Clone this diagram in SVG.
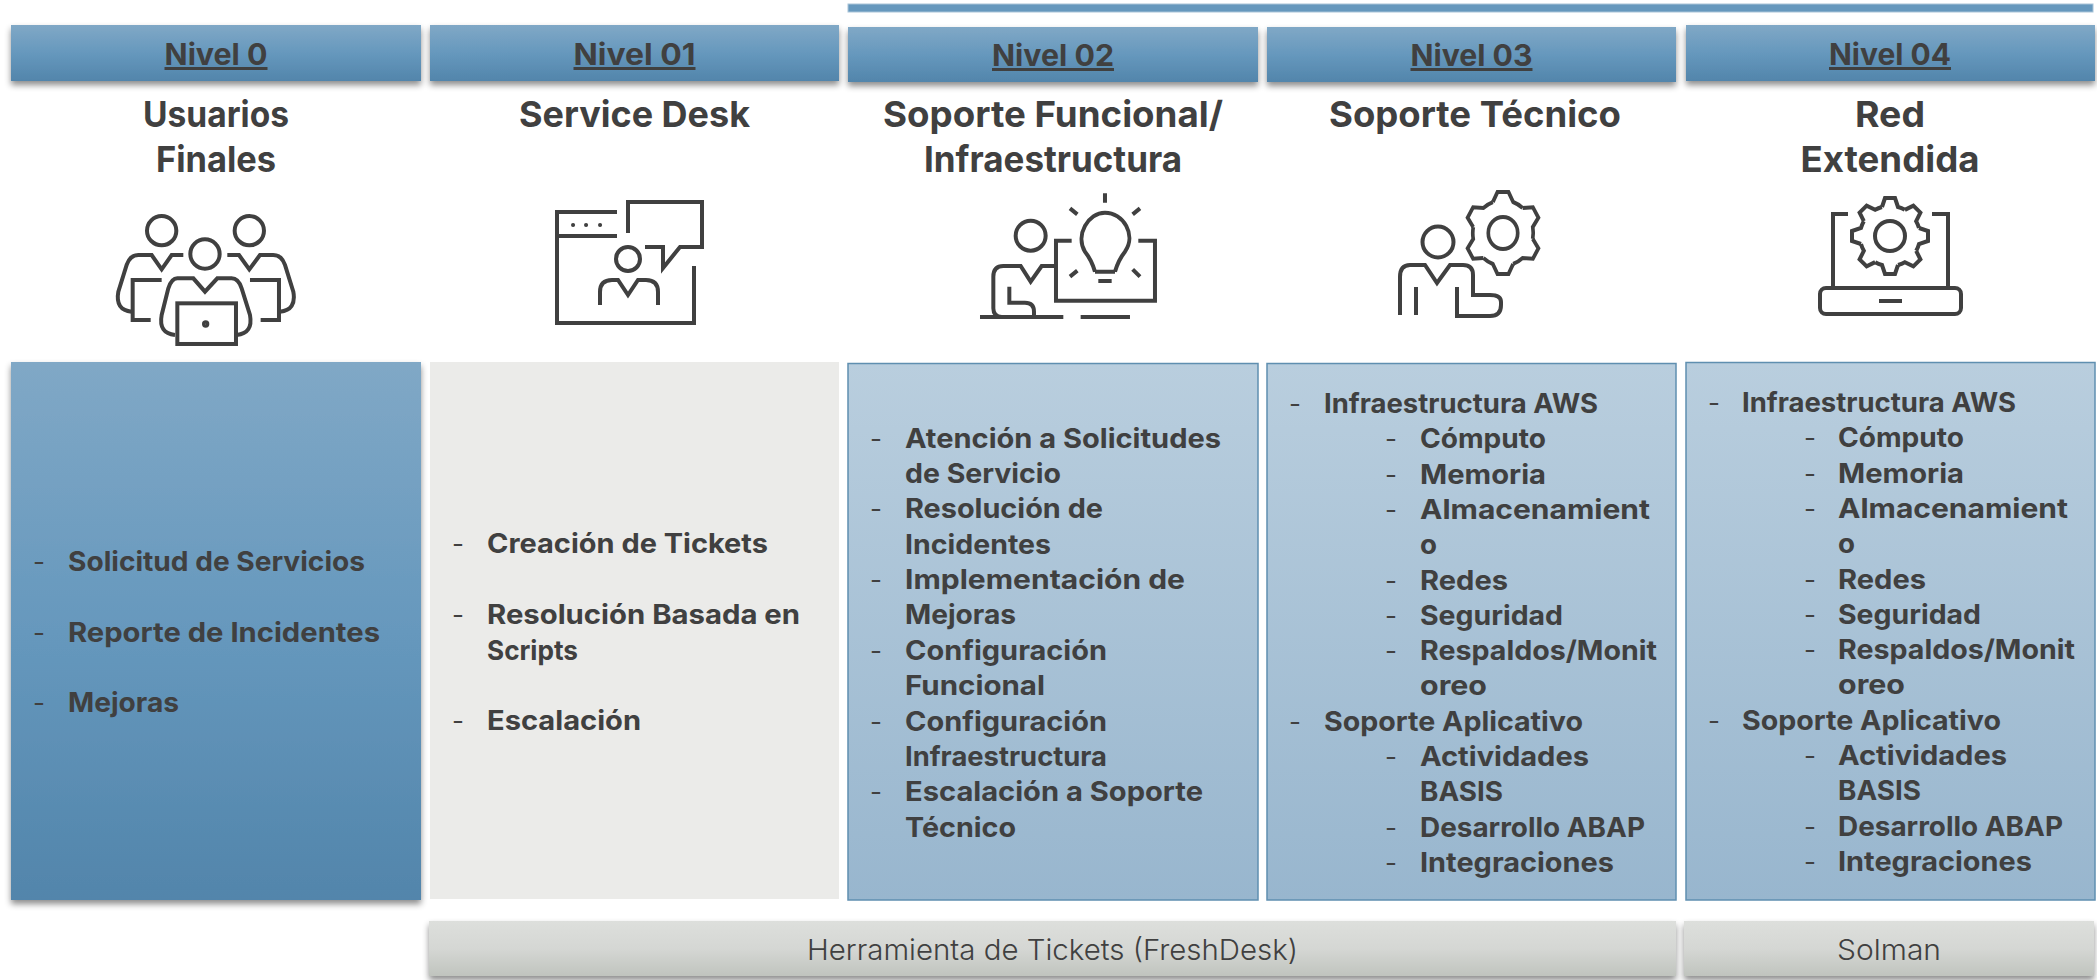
<svg xmlns="http://www.w3.org/2000/svg" xmlns:xlink="http://www.w3.org/1999/xlink" width="2097" height="980" viewBox="0 0 2097 980">
<style>
text{font-family:"Inter","Liberation Sans",sans-serif;fill:#404040}
.h{font-size:30px;font-weight:700;text-anchor:middle;text-decoration:underline}
.t{font-size:36px;font-weight:700;text-anchor:middle}
.b{font-size:27px;font-weight:700}
.d{font-size:26px;font-weight:400}
.k{font-size:29px;font-weight:300;text-anchor:middle}
.hdr{fill:url(#gb);filter:url(#sh)}
.lb{fill:url(#gl);stroke:#5f8fb0;stroke-width:1.5}
.tool{fill:url(#gg);filter:url(#sh)}
.ic{fill:none;stroke:#404040;stroke-width:4;filter:url(#soft)}
.ic3{fill:none;stroke:#404040;stroke-width:12;filter:url(#soft3)}
</style>
<defs>
<linearGradient id="gb" x1="0" y1="0" x2="0" y2="1"><stop offset="0" stop-color="#80a8c6"/><stop offset=".5" stop-color="#6698bd"/><stop offset="1" stop-color="#5285ab"/></linearGradient>
<linearGradient id="gl" x1="0" y1="0" x2="0" y2="1"><stop offset="0" stop-color="#b9cede"/><stop offset="1" stop-color="#98b6ce"/></linearGradient>
<linearGradient id="gg" x1="0" y1="0" x2="0" y2="1"><stop offset="0" stop-color="#dddfdc"/><stop offset=".5" stop-color="#d5d7d4"/><stop offset="1" stop-color="#c0c4be"/></linearGradient>
<filter id="sh" x="-5%" y="-20%" width="110%" height="150%"><feDropShadow dx="0" dy="4" stdDeviation="3" flood-color="#000" flood-opacity=".45"/></filter>
<filter id="soft"><feGaussianBlur stdDeviation=".7"/></filter>
<filter id="soft3"><feGaussianBlur stdDeviation="2.1"/></filter>
<path id="t6" d="M-11 -31L-6 -41H6L11 -31A33 33 0 0 1 21.3 -25"/>
<path id="t8" d="M-8 -29L-5 -38H5L8 -29A30 30 0 0 1 14.8 -26.2"/>
</defs>

<g id="top-bar"><rect x="848" y="4" width="1245" height="8" fill="#6698bd" stroke="#a9c4d8" stroke-width="1"/></g>

<g id="nivel0"><rect class="hdr" x="11" y="25" width="410" height="56"/><text class="h" x="216" y="65" textLength="103" lengthAdjust="spacingAndGlyphs">Nivel 0</text>
<text class="t" x="216" y="127" textLength="146" lengthAdjust="spacingAndGlyphs">Usuarios</text><text class="t" x="216" y="172" textLength="120" lengthAdjust="spacingAndGlyphs">Finales</text>
<g class="ic3" transform="translate(90 190) scale(.3333)">
<circle cx="215" cy="122" r="44"/><circle cx="478" cy="122" r="44"/><circle cx="345" cy="192" r="44"/>
<path d="M280 195H245L215 238L185 195H145Q120 195 110 225L85 305Q75 360 125 365"/>
<path d="M215 270H128V390H182"/>
<path d="M412 195H447L478 238L510 195H550Q575 195 585 225L610 305Q620 360 570 365"/>
<path d="M480 270H567V390H512"/>
<path d="M262 265H310L345 305L382 265H425Q445 265 455 295L480 375Q490 430 440 435M262 265Q245 265 235 295L215 375Q205 430 255 435"/>
<rect x="262" y="340" width="176" height="122"/>
<circle cx="347" cy="402" r="5"/>
</g></g>

<g id="nivel01"><rect class="hdr" x="430" y="25" width="409" height="56"/><text class="h" x="634.5" y="65" textLength="122" lengthAdjust="spacingAndGlyphs">Nivel 01</text>
<text class="t" x="634.5" y="127" textLength="231" lengthAdjust="spacingAndGlyphs">Service Desk</text>
<g class="ic">
<path d="M617 212H557V323H694V266M557 236H617"/>
<path d="M573 225h.1M586 225h.1M600 225h.1" stroke-linecap="round"/>
<path d="M628 233V202H702V247H680L663 268V247H645"/>
<circle cx="628" cy="259" r="12"/>
<path d="M600 305V292Q600 280 612 280H618L628 295L638 280H646Q658 280 658 292V305"/>
</g></g>

<g id="nivel02"><rect class="hdr" x="848" y="27" width="410" height="55"/><text class="h" x="1053" y="66" textLength="122" lengthAdjust="spacingAndGlyphs">Nivel 02</text>
<text class="t" x="1053" y="127" textLength="340" lengthAdjust="spacingAndGlyphs">Soporte Funcional/</text><text class="t" x="1053" y="172" textLength="258" lengthAdjust="spacingAndGlyphs">Infraestructura</text>
<g class="ic3" transform="translate(960 180) scale(.3333)">
<circle cx="212" cy="167" r="45"/>
<path d="M285 258H245L212 305L182 258H130Q100 258 100 290V385Q100 410 125 411"/>
<path d="M60 411H310M362 411H510"/>
<path d="M148 320V368H195Q222 368 222 395V411"/>
<path d="M335 182H288V362H585V182H535"/>
<path d="M405 275H465M405 275Q395 240 375 215C345 165 385 98 435 98C490 98 530 165 495 215Q475 240 465 275"/>
<path d="M415 303H455M435 40V68M330 85L352 103M540 85L518 103M352 272L330 290M518 268L540 290"/>
</g></g>

<g id="nivel03"><rect class="hdr" x="1267" y="27" width="409" height="55"/><text class="h" x="1471.5" y="66" textLength="122" lengthAdjust="spacingAndGlyphs">Nivel 03</text>
<text class="t" x="1475" y="127" textLength="292" lengthAdjust="spacingAndGlyphs">Soporte Técnico</text>
<g class="ic">
<circle cx="1438" cy="242" r="15.5"/>
<path d="M1416 287V315M1457 287V316H1490Q1501 316 1501 305V302Q1501 295 1490 295H1473V275Q1473 265 1463 265H1450L1437 283L1425 265H1410Q1400 265 1400 277V315"/>
<g transform="translate(1503 233) scale(.92 1)"><circle r="16"/><use xlink:href="#t6"/><use xlink:href="#t6" transform="rotate(60)"/><use xlink:href="#t6" transform="rotate(120)"/><use xlink:href="#t6" transform="rotate(180)"/><use xlink:href="#t6" transform="rotate(240)"/><use xlink:href="#t6" transform="rotate(300)"/></g>
</g></g>

<g id="nivel04"><rect class="hdr" x="1686" y="25" width="409" height="56"/><text class="h" x="1890" y="65" textLength="122" lengthAdjust="spacingAndGlyphs">Nivel 04</text>
<text class="t" x="1890" y="127" textLength="70" lengthAdjust="spacingAndGlyphs">Red</text><text class="t" x="1890" y="172" textLength="179" lengthAdjust="spacingAndGlyphs">Extendida</text>
<g class="ic">
<path d="M1848 214H1833V287M1932 214H1948V287M1879 301H1902"/>
<rect x="1820" y="288" width="141" height="26" rx="6"/>
<g transform="translate(1890 236)"><circle r="15"/><use xlink:href="#t8"/><use xlink:href="#t8" transform="rotate(45)"/><use xlink:href="#t8" transform="rotate(90)"/><use xlink:href="#t8" transform="rotate(135)"/><use xlink:href="#t8" transform="rotate(180)"/><use xlink:href="#t8" transform="rotate(225)"/><use xlink:href="#t8" transform="rotate(270)"/><use xlink:href="#t8" transform="rotate(315)"/></g>
</g></g>

<g id="caja0"><rect x="11" y="362" width="410" height="538" fill="url(#gb)" filter="url(#sh)"/>
<text class="d" x="33" y="571">-</text><text class="b" x="68" y="571" textLength="297" lengthAdjust="spacingAndGlyphs">Solicitud de Servicios</text>
<text class="d" x="33" y="641.6">-</text><text class="b" x="68" y="641.6" textLength="312" lengthAdjust="spacingAndGlyphs">Reporte de Incidentes</text>
<text class="d" x="33" y="712">-</text><text class="b" x="68" y="712" textLength="111" lengthAdjust="spacingAndGlyphs">Mejoras</text>
</g>

<g id="caja1"><rect x="430" y="362" width="409" height="537" fill="#ebebe9"/>
<text class="d" x="452" y="553">-</text><text class="b" x="487" y="553" textLength="281" lengthAdjust="spacingAndGlyphs">Creación de Tickets</text>
<text class="d" x="452" y="624">-</text><text class="b" x="487" y="624" textLength="313" lengthAdjust="spacingAndGlyphs">Resolución Basada en</text>
<text class="b" x="487" y="659.5" textLength="91" lengthAdjust="spacingAndGlyphs">Scripts</text>
<text class="d" x="452" y="730">-</text><text class="b" x="487" y="730" textLength="154" lengthAdjust="spacingAndGlyphs">Escalación</text>
</g>

<g id="caja2"><rect class="lb" x="848" y="363.5" width="410" height="536.5"/>
<text class="d" x="870" y="447.6">-</text><text class="b" x="905" y="447.6" textLength="316" lengthAdjust="spacingAndGlyphs">Atención a Solicitudes</text>
<text class="b" x="905" y="483" textLength="156" lengthAdjust="spacingAndGlyphs">de Servicio</text>
<text class="d" x="870" y="518.3">-</text><text class="b" x="905" y="518.3" textLength="198" lengthAdjust="spacingAndGlyphs">Resolución de</text>
<text class="b" x="905" y="553.7" textLength="146" lengthAdjust="spacingAndGlyphs">Incidentes</text>
<text class="d" x="870" y="589">-</text><text class="b" x="905" y="589" textLength="280" lengthAdjust="spacingAndGlyphs">Implementación de</text>
<text class="b" x="905" y="624.4" textLength="111" lengthAdjust="spacingAndGlyphs">Mejoras</text>
<text class="d" x="870" y="659.8">-</text><text class="b" x="905" y="659.8" textLength="202" lengthAdjust="spacingAndGlyphs">Configuración</text>
<text class="b" x="905" y="695.1" textLength="140" lengthAdjust="spacingAndGlyphs">Funcional</text>
<text class="d" x="870" y="730.5">-</text><text class="b" x="905" y="730.5" textLength="202" lengthAdjust="spacingAndGlyphs">Configuración</text>
<text class="b" x="905" y="765.8" textLength="202" lengthAdjust="spacingAndGlyphs">Infraestructura</text>
<text class="d" x="870" y="801.2">-</text><text class="b" x="905" y="801.2" textLength="298" lengthAdjust="spacingAndGlyphs">Escalación a Soporte</text>
<text class="b" x="905" y="836.6" textLength="111" lengthAdjust="spacingAndGlyphs">Técnico</text>
</g>

<g id="caja3"><rect class="lb" x="1267" y="363.5" width="409" height="536.5"/>
<text class="d" x="1289" y="413">-</text><text class="b" x="1324" y="413" textLength="274" lengthAdjust="spacingAndGlyphs">Infraestructura AWS</text>
<text class="d" x="1385" y="448.3">-</text><text class="b" x="1420" y="448.3" textLength="126" lengthAdjust="spacingAndGlyphs">Cómputo</text>
<text class="d" x="1385" y="483.6">-</text><text class="b" x="1420" y="483.6" textLength="126" lengthAdjust="spacingAndGlyphs">Memoria</text>
<text class="d" x="1385" y="518.9">-</text><text class="b" x="1420" y="518.9" textLength="230" lengthAdjust="spacingAndGlyphs">Almacenamient</text>
<text class="b" x="1420" y="554.2" textLength="17" lengthAdjust="spacingAndGlyphs">o</text>
<text class="d" x="1385" y="589.5">-</text><text class="b" x="1420" y="589.5" textLength="88" lengthAdjust="spacingAndGlyphs">Redes</text>
<text class="d" x="1385" y="624.8">-</text><text class="b" x="1420" y="624.8" textLength="143" lengthAdjust="spacingAndGlyphs">Seguridad</text>
<text class="d" x="1385" y="660.1">-</text><text class="b" x="1420" y="660.1" textLength="237" lengthAdjust="spacingAndGlyphs">Respaldos/Monit</text>
<text class="b" x="1420" y="695.4" textLength="67" lengthAdjust="spacingAndGlyphs">oreo</text>
<text class="d" x="1289" y="730.7">-</text><text class="b" x="1324" y="730.7" textLength="259" lengthAdjust="spacingAndGlyphs">Soporte Aplicativo</text>
<text class="d" x="1385" y="766">-</text><text class="b" x="1420" y="766" textLength="169" lengthAdjust="spacingAndGlyphs">Actividades</text>
<text class="b" x="1420" y="801.3" textLength="83" lengthAdjust="spacingAndGlyphs">BASIS</text>
<text class="d" x="1385" y="836.6">-</text><text class="b" x="1420" y="836.6" textLength="225" lengthAdjust="spacingAndGlyphs">Desarrollo ABAP</text>
<text class="d" x="1385" y="871.9">-</text><text class="b" x="1420" y="871.9" textLength="194" lengthAdjust="spacingAndGlyphs">Integraciones</text>
</g>

<g id="caja4"><rect class="lb" x="1686" y="362.5" width="409" height="537.5"/>
<text class="d" x="1708" y="412">-</text><text class="b" x="1742" y="412" textLength="274" lengthAdjust="spacingAndGlyphs">Infraestructura AWS</text>
<text class="d" x="1804" y="447.3">-</text><text class="b" x="1838" y="447.3" textLength="126" lengthAdjust="spacingAndGlyphs">Cómputo</text>
<text class="d" x="1804" y="482.6">-</text><text class="b" x="1838" y="482.6" textLength="126" lengthAdjust="spacingAndGlyphs">Memoria</text>
<text class="d" x="1804" y="517.9">-</text><text class="b" x="1838" y="517.9" textLength="230" lengthAdjust="spacingAndGlyphs">Almacenamient</text>
<text class="b" x="1838" y="553.2" textLength="17" lengthAdjust="spacingAndGlyphs">o</text>
<text class="d" x="1804" y="588.5">-</text><text class="b" x="1838" y="588.5" textLength="88" lengthAdjust="spacingAndGlyphs">Redes</text>
<text class="d" x="1804" y="623.8">-</text><text class="b" x="1838" y="623.8" textLength="143" lengthAdjust="spacingAndGlyphs">Seguridad</text>
<text class="d" x="1804" y="659.1">-</text><text class="b" x="1838" y="659.1" textLength="237" lengthAdjust="spacingAndGlyphs">Respaldos/Monit</text>
<text class="b" x="1838" y="694.4" textLength="67" lengthAdjust="spacingAndGlyphs">oreo</text>
<text class="d" x="1708" y="729.7">-</text><text class="b" x="1742" y="729.7" textLength="259" lengthAdjust="spacingAndGlyphs">Soporte Aplicativo</text>
<text class="d" x="1804" y="765">-</text><text class="b" x="1838" y="765" textLength="169" lengthAdjust="spacingAndGlyphs">Actividades</text>
<text class="b" x="1838" y="800.3" textLength="83" lengthAdjust="spacingAndGlyphs">BASIS</text>
<text class="d" x="1804" y="835.6">-</text><text class="b" x="1838" y="835.6" textLength="225" lengthAdjust="spacingAndGlyphs">Desarrollo ABAP</text>
<text class="d" x="1804" y="870.9">-</text><text class="b" x="1838" y="870.9" textLength="194" lengthAdjust="spacingAndGlyphs">Integraciones</text>
</g>

<g id="herramienta"><rect class="tool" x="429" y="921" width="1247" height="55"/><text class="k" x="1052.5" y="960" textLength="491" lengthAdjust="spacingAndGlyphs">Herramienta de Tickets (FreshDesk)</text></g>
<g id="solman"><rect class="tool" x="1684" y="921" width="410" height="55"/><text class="k" x="1889" y="960" textLength="104" lengthAdjust="spacingAndGlyphs">Solman</text></g>
<g id="connectors"></g>
</svg>
